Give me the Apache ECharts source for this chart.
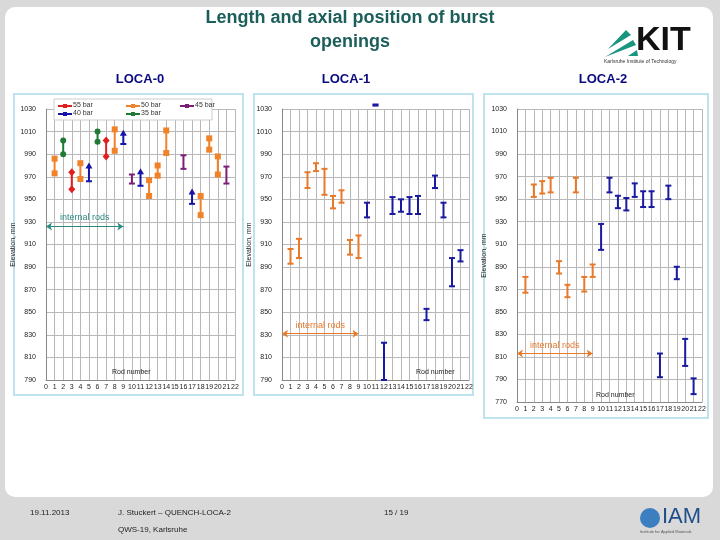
<!DOCTYPE html>
<html>
<head>
<meta charset="utf-8">
<script src="https://cdn.jsdelivr.net/npm/echarts@6/dist/echarts.min.js"></script>
<style>
  html, body { margin: 0; padding: 0; background: #d9d9d9; }
  #main { width: 720px; height: 540px; }
</style>
</head>
<body>
<div id="main"></div>
<script>
// rod number, lower end, upper end (mm)
var loca0_55bar = [[3, 959, 974], [7, 988, 1002]];
var loca0_50bar = [[1, 973, 986], [4, 968, 982], [8, 993, 1012], [12, 953, 967], [13, 971, 980],
  [14, 991, 1011], [18, 936, 953], [19, 994, 1004], [20, 972, 988]];
var loca0_45bar = [[10, 964, 972], [16, 977, 989], [21, 964, 979]];
var loca0_40bar = [[5, 966, 979], [9, 999, 1008], [11, 962, 974], [17, 946, 956]];
var loca0_35bar = [[2, 990, 1002], [6, 1001, 1010]];

var loca1_inner = [[1, 893, 906], [2, 898, 915], [3, 960, 974], [4, 975, 982], [5, 954, 977],
  [6, 942, 953], [7, 947, 958], [8, 901, 914], [9, 898, 918]];
var loca1_outer = [[10, 934, 947], [11, 1033, 1034], [12, 790, 823], [13, 937, 952], [14, 939, 950],
  [15, 937, 952], [16, 937, 953], [17, 843, 853], [18, 960, 971], [19, 934, 947], [20, 873, 898], [21, 895, 905]];

var loca2_inner = [[1, 867, 881], [2, 952, 963], [3, 955, 966], [4, 956, 969], [5, 884, 895],
  [6, 863, 874], [7, 956, 969], [8, 868, 881], [9, 881, 892]];
var loca2_outer = [[10, 905, 928], [11, 956, 969], [12, 942, 953], [13, 940, 951], [14, 952, 964],
  [15, 943, 957], [16, 943, 957], [17, 792, 813], [18, 950, 962], [19, 879, 890], [20, 802, 826], [21, 777, 791]];

var legendNames = ['55 bar', '50 bar', '45 bar', '40 bar', '35 bar'];
var xTicks = [0, 22, 1];
var yRange0 = [790, 1030];
var yRange2 = [770, 1030];

// tick grid starts at a multiple of 20, labels shifted by 10
var OFF = 10;

var C = {
  red: '#e0201e', orange: '#f0822a', purple: '#7a1e78', blue: '#1414a8', green: '#1f7a36',
  orange2: '#e8782a', blue2: '#1a1aa0', teal: '#2a8a80'
};

var myChart = echarts.init(document.getElementById('main'));

function toData (arr) {
  return arr.map(function (d) { return [d[0], d[1] - OFF, d[2] - OFF]; });
}

function barItem (kind, color) {
  return function (params, api) {
    var top = api.coord([api.value(0), api.value(2)]);
    var bot = api.coord([api.value(0), api.value(1)]);
    var x = top[0];
    var kids = [{
      type: 'line', shape: { x1: x, y1: top[1], x2: x, y2: bot[1] },
      style: { stroke: color, lineWidth: 2 }
    }];
    function cap (y) {
      kids.push({ type: 'line', shape: { x1: x - 3, y1: y, x2: x + 3, y2: y }, style: { stroke: color, lineWidth: 2 } });
    }
    [top[1], bot[1]].forEach(function (y, i) {
      if (kind === 'cap') cap(y);
      else if (kind === 'square') kids.push({ type: 'rect', shape: { x: x - 3, y: y - 3, width: 6, height: 6 }, style: { fill: color } });
      else if (kind === 'circle') kids.push({ type: 'circle', shape: { cx: x, cy: y, r: 3 }, style: { fill: color } });
      else if (kind === 'diamond') kids.push({ type: 'polygon', shape: { points: [[x, y - 4], [x + 3.5, y], [x, y + 4], [x - 3.5, y]] }, style: { fill: color } });
      else if (kind === 'arrow') {
        if (i === 0) kids.push({ type: 'polygon', shape: { points: [[x, y - 4], [x + 3.5, y + 2], [x - 3.5, y + 2]] }, style: { fill: color } });
        else cap(y);
      }
    });
    return { type: 'group', children: kids };
  };
}

function mkSeries (name, idx, arr, kind, color) {
  return {
    name: name, type: 'custom', xAxisIndex: idx, yAxisIndex: idx,
    renderItem: barItem(kind, color), data: toData(arr), z: 5
  };
}

function innerArrow (idx, y, color) {
  return {
    type: 'line', xAxisIndex: idx, yAxisIndex: idx, data: [], silent: true,
    markLine: {
      symbol: ['arrow', 'arrow'], symbolSize: 6, silent: true,
      lineStyle: { color: color, type: 'solid', width: 1.2 },
      label: { show: true, position: 'insideMiddleTop', formatter: 'internal rods', color: color, fontSize: 9, fontFamily: 'Liberation Sans', distance: 4 },
      data: [[{ coord: [0, y - OFF] }, { coord: [9, y - OFF] }]]
    }
  };
}

var grids = [
  { left: 46, right: 485, top: 109, bottom: 160 },
  { left: 282, right: 251, top: 109, bottom: 160 },
  { left: 517, right: 18, top: 109, bottom: 138 }
];

function xAx (i) {
  return {
    type: 'value', gridIndex: i, min: xTicks[0], max: xTicks[1], interval: xTicks[2],
    axisLine: { onZero: false, lineStyle: { color: '#888' } }, axisTick: { show: false },
    axisLabel: { fontSize: 7, color: '#222', margin: 4, fontFamily: 'Liberation Sans' },
    splitLine: { lineStyle: { color: '#b8b8b8', width: 1 } }
  };
}
function yAx (i, range) {
  return {
    type: 'value', gridIndex: i, min: range[0] - OFF, max: range[1] - OFF, interval: 20,
    axisLine: { lineStyle: { color: '#888' } }, axisTick: { show: false },
    axisLabel: { fontSize: 7, color: '#222', margin: 10, fontFamily: 'Liberation Sans', formatter: function (v) { return v + OFF; } },
    splitLine: { lineStyle: { color: '#b8b8b8', width: 1 } },
    name: 'Elevation, mm', nameLocation: 'middle', nameGap: 12, nameRotate: 90,
    nameTextStyle: { fontSize: 7, color: '#222', fontFamily: 'Liberation Sans' }
  };
}

var legendColors = [C.red, C.orange, C.purple, C.blue, C.green];
var legendPos = [[58, 106], [126, 106], [180, 106], [58, 114], [126, 114]];
var legendGraphics = [];
legendNames.forEach(function (n, i) {
  var p = legendPos[i];
  legendGraphics.push(
    { type: 'line', z: 30, shape: { x1: p[0], y1: p[1], x2: p[0] + 14, y2: p[1] }, style: { stroke: legendColors[i], lineWidth: 2 } },
    { type: 'rect', z: 30, shape: { x: p[0] + 5, y: p[1] - 2, width: 4, height: 4 }, style: { fill: legendColors[i] } },
    { type: 'text', z: 30, x: p[0] + 15, y: p[1] - 4, style: { text: n, fontSize: 7, fill: '#333', fontFamily: 'Liberation Sans' } }
  );
});

var panels = [[14, 94, 229, 301], [254, 94, 219, 301], [484, 94, 224, 324]].map(function (r) {
  return { type: 'rect', shape: { x: r[0], y: r[1], width: r[2], height: r[3] }, style: { fill: '#fff', stroke: '#bfe3ee', lineWidth: 2 }, z: -10 };
});

function txt (x, y, t, size, color, weight, align) {
  return { type: 'text', z: 25, x: x, y: y, style: { text: t, fontSize: size, fill: color, fontWeight: weight || 'normal', fontFamily: 'Liberation Sans', textAlign: align || 'left' } };
}

var option = {
  animation: false,
  grid: grids,
  xAxis: [xAx(0), xAx(1), xAx(2)],
  yAxis: [yAx(0, yRange0), yAx(1, yRange0), yAx(2, yRange2)],
  graphic: [
    { type: 'rect', shape: { x: 5, y: 7, width: 708, height: 490, r: 10 }, style: { fill: '#fff' }, z: -20 },
    txt(350, 9, 'Length and axial position of burst', 18, '#1b5e5a', 'bold', 'center'),
    txt(350, 33, 'openings', 18, '#1b5e5a', 'bold', 'center'),
    txt(140, 73, 'LOCA-0', 13, '#0a0a80', 'bold', 'center'),
    txt(346, 73, 'LOCA-1', 13, '#0a0a80', 'bold', 'center'),
    txt(603, 73, 'LOCA-2', 13, '#0a0a80', 'bold', 'center'),
    // KIT logo
    { type: 'polygon', shape: { points: [[605, 57], [633, 40], [636, 45]] }, style: { fill: '#17957f' } },
    { type: 'polygon', shape: { points: [[608, 49], [626, 30], [631, 35]] }, style: { fill: '#17957f' } },
    { type: 'polygon', shape: { points: [[628, 56], [637, 50], [638, 56]] }, style: { fill: '#17957f' } },
    txt(636, 24, 'KIT', 34, '#111', 'bold'),
    txt(604, 59, 'Karlsruhe Institute of Technology', 5, '#333'),
    { type: 'rect', shape: { x: 0, y: 497, width: 720, height: 43 }, style: { fill: '#d9d9d9' }, z: -19 },
    txt(30, 509, '19.11.2013', 8, '#222'),
    txt(118, 509, 'J. Stuckert \u2013 QUENCH-LOCA-2', 8, '#222'),
    txt(118, 526, 'QWS-19, Karlsruhe', 8, '#222'),
    txt(384, 509, '15 / 19', 8, '#222'),
    { type: 'circle', shape: { cx: 650, cy: 518, r: 10 }, style: { fill: '#3c7fc0' } },
    txt(662, 506, 'IAM', 22, '#1f4e8c'),
    txt(640, 530, 'Institute for Applied Materials', 4, '#555'),
    txt(112, 369, 'Rod number', 7, '#222'),
    txt(416, 369, 'Rod number', 7, '#222'),
    txt(596, 392, 'Rod number', 7, '#222'),
    { type: 'rect', shape: { x: 54, y: 99, width: 158, height: 21 }, style: { fill: '#fff', stroke: '#ccc' }, z: 20 }
  ].concat(panels, legendGraphics),
  series: [
    mkSeries('55 bar', 0, loca0_55bar, 'diamond', C.red),
    mkSeries('50 bar', 0, loca0_50bar, 'square', C.orange),
    mkSeries('45 bar', 0, loca0_45bar, 'cap', C.purple),
    mkSeries('40 bar', 0, loca0_40bar, 'arrow', C.blue),
    mkSeries('35 bar', 0, loca0_35bar, 'circle', C.green),
    mkSeries('LOCA-1 inner', 1, loca1_inner, 'cap', C.orange2),
    mkSeries('LOCA-1 outer', 1, loca1_outer, 'cap', C.blue2),
    mkSeries('LOCA-2 inner', 2, loca2_inner, 'cap', C.orange2),
    mkSeries('LOCA-2 outer', 2, loca2_outer, 'cap', C.blue2),
    innerArrow(0, 926, C.teal),
    innerArrow(1, 831, C.orange2),
    innerArrow(2, 813, C.orange2)
  ]
};
myChart.setOption(option);
</script>
</body>
</html>
